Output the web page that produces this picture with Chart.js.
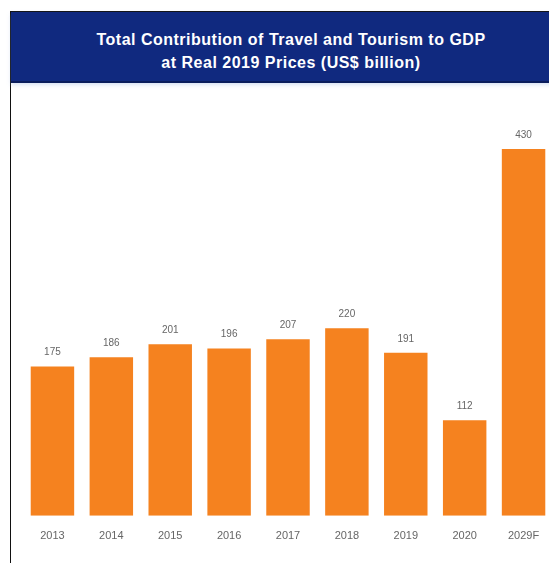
<!DOCTYPE html>
<html>
<head>
<meta charset="utf-8">
<script src="https://cdn.jsdelivr.net/npm/chart.js@4.4.1/dist/chart.umd.min.js"></script>
<style>
  html, body { margin: 0; padding: 0; background: #fff; overflow: hidden; width: 549px; height: 563px; }
  .frame {
    position: absolute; left: 10px; top: 11px; width: 560px; height: 560px;
    border-left: 1px solid #111; border-top: 1px solid #111; background: #fff;
  }
  .header {
    height: 71px; background: #10297f; color: #fff;
    font-family: "Liberation Sans", Arial, sans-serif; font-weight: bold; font-size: 16px;
    line-height: 23px; text-align: center; box-sizing: border-box; padding-top: 16px;
    letter-spacing: 0.5px;
    border-bottom: 2px solid #0a1c5c; box-shadow: 0 2px 4px rgba(140,170,220,0.35);
  }
  #wrap { position: absolute; left: -10px; top: 72px; width: 570px; height: 480px; }
</style>
</head>
<body>
<div class="frame">
  <div class="header">Total Contribution of Travel and Tourism to GDP<br>at Real 2019 Prices (US$ billion)</div>
  <div id="wrap"><canvas id="chart"></canvas></div>
</div>
<script>
const years = ['2013', '2014', '2015', '2016', '2017', '2018', '2019', '2020', '2029F'];
const contribution = [175, 186, 201, 196, 207, 220, 191, 112, 430];

const valueLabels = {
  id: 'valueLabels',
  afterDatasetsDraw(chart) {
    const ctx = chart.ctx;
    const meta = chart.getDatasetMeta(0);
    ctx.save();
    ctx.fillStyle = '#666';
    ctx.font = '10px "Liberation Sans", Arial, sans-serif';
    ctx.textAlign = 'center';
    ctx.textBaseline = 'bottom';
    meta.data.forEach((bar, i) => {
      ctx.fillText(contribution[i], bar.x, bar.y - 9);
    });
    ctx.restore();
  }
};

new Chart(document.getElementById('chart'), {
  type: 'bar',
  data: {
    labels: years,
    datasets: [{
      data: contribution,
      backgroundColor: '#f5821f',
      barPercentage: 0.82,
      categoryPercentage: 0.9
    }]
  },
  options: {
    responsive: true,
    maintainAspectRatio: false,
    animation: false,
    layout: { padding: { left: 22, right: 18, top: 65, bottom: 15 } },
    plugins: { legend: { display: false }, tooltip: { enabled: false } },
    scales: {
      y: { display: false, min: 0, max: 430 },
      x: {
        grid: { display: false },
        border: { display: false },
        ticks: { color: '#666', font: { size: 11, family: '"Liberation Sans", Arial, sans-serif' }, padding: 6 }
      }
    }
  },
  plugins: [valueLabels]
});
</script>
</body>
</html>
